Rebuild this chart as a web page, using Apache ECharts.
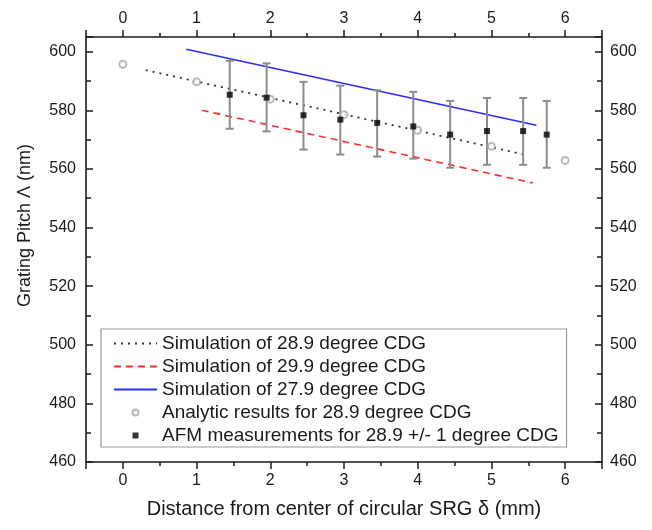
<!DOCTYPE html>
<html><head><meta charset="utf-8">
<script src="https://cdn.jsdelivr.net/npm/echarts@6/dist/echarts.min.js"></script>
<style>html,body{margin:0;padding:0;background:#fff}#c{width:652px;height:530px}</style>
</head><body><div id="c"></div>
<script>
// ---- data ----
const xTickLabels = [0, 1, 2, 3, 4, 5, 6];
const yTickLabels = [460, 480, 500, 520, 540, 560, 580, 600];
const sim289X = [0.31, 5.45];
const sim289Y = [593.7, 564.9];
const sim299X = [1.07, 5.56];
const sim299Y = [580.0, 555.2];
const sim279X = [0.86, 5.61];
const sim279Y = [600.8, 574.9];
const analyticX = [0, 1, 2, 3, 4, 5, 6];
const analyticY = [595.7, 589.7, 583.8, 578.5, 573.2, 567.7, 562.9];
const afmX = [1.45, 1.95, 2.45, 2.95, 3.45, 3.94, 4.44, 4.94, 5.43, 5.75];
const afmY = [585.3, 584.3, 578.3, 576.8, 575.7, 574.5, 571.7, 572.9, 572.9, 571.7];
const afmLow = [573.7, 572.8, 566.6, 564.9, 564.2, 563.5, 560.4, 561.4, 561.4, 560.4];
const afmHigh = [596.9, 596.0, 589.7, 588.4, 586.8, 586.3, 583.2, 584.2, 584.2, 583.2];
const seriesNames = [
  'Simulation of 28.9 degree CDG',
  'Simulation of 29.9 degree CDG',
  'Simulation of 27.9 degree CDG',
  'Analytic results for 28.9 degree CDG',
  'AFM measurements for 28.9 +/- 1 degree CDG'
];
const xTitle = 'Distance from center of circular SRG \u03b4 (mm)';
const yTitle = 'Grating Pitch \u039b (nm)';

// ---- helpers ----
const FONT = '"Liberation Sans", Arial, sans-serif';
const AX = '#1a1a1a';
const TXT = '#1a1a1a';
const zip = (a, b) => a.map((v, i) => [v, b[i]]);

function xAxisMajor(pos, withName) {
  return {
    type: 'value', position: pos, min: -0.5, max: 6.5, splitNumber: 7,
    axisLine: {show: true, onZero: false, lineStyle: {color: AX, width: 1.6}},
    axisTick: {show: true, inside: false, length: 7, lineStyle: {color: AX, width: 1.5}},
    axisLabel: {show: true, margin: pos === 'bottom' ? 11 : 10, fontSize: 16, color: TXT, fontFamily: FONT,
      formatter: v => xTickLabels.includes(v) ? String(v) : ''},
    splitLine: {show: false},
    name: withName ? xTitle : '', nameLocation: 'middle', nameGap: 37, nameMoveOverlap: false,
    nameTextStyle: {fontSize: 20, color: TXT, fontFamily: FONT}
  };
}
function xAxisMinor(pos) {
  return {
    type: 'value', position: pos, min: -0.5, max: 6.5, interval: 0.5,
    axisLine: {show: false, onZero: false},
    axisTick: {show: true, inside: false, length: 4, lineStyle: {color: AX, width: 1.5}},
    axisLabel: {show: false}, splitLine: {show: false}
  };
}
function yAxisMajor(pos, withName) {
  return {
    type: 'value', position: pos, min: 460, max: 605, interval: 20,
    axisLine: {show: true, onZero: false, lineStyle: {color: AX, width: 1.6}},
    axisTick: {show: true, inside: true, length: 7, lineStyle: {color: AX, width: 1.5}},
    axisLabel: {show: true, margin: pos === 'left' ? 10 : 8, fontSize: 16, color: TXT, fontFamily: FONT,
      formatter: v => yTickLabels.includes(v) ? String(v) : ''},
    splitLine: {show: false},
    name: withName ? yTitle : '', nameLocation: 'middle', nameGap: 52, nameMoveOverlap: false,
    nameTextStyle: {fontSize: 18, color: TXT, fontFamily: FONT, padding: [0, 0, 0, 48]}
  };
}
function yAxisMinor(pos) {
  return {
    type: 'value', position: pos, min: 460, max: 605, interval: 10,
    axisLine: {show: false, onZero: false},
    axisTick: {show: true, inside: true, length: 5, lineStyle: {color: AX, width: 1.5}},
    axisLabel: {show: false}, splitLine: {show: false}
  };
}

const chart = echarts.init(document.getElementById('c'), null, {renderer: 'canvas'});
chart.setOption({
  animation: false,
  backgroundColor: '#fff',
  textStyle: {fontFamily: FONT},
  grid: {left: 86, right: 50, top: 37, bottom: 68, containLabel: false, outerBoundsMode: 'none'},
  xAxis: [xAxisMajor('bottom', true), xAxisMinor('bottom'), xAxisMajor('top', false), xAxisMinor('top')],
  yAxis: [yAxisMajor('left', true), yAxisMinor('left'), yAxisMajor('right', false), yAxisMinor('right')],
  legend: {
    data: [
      {name: seriesNames[0], itemStyle: {opacity: 0}},
      {name: seriesNames[1], itemStyle: {opacity: 0}},
      {name: seriesNames[2], itemStyle: {opacity: 0}},
      {name: seriesNames[3]},
      {name: seriesNames[4], icon: 'path://M0,0H1V1H0Z'}
    ],
    orient: 'vertical', left: 101, top: 329,
    itemWidth: 43, itemHeight: 6, itemGap: 4, selectedMode: false,
    padding: [5, 8, 2, 12], borderColor: '#9a9a9a', borderWidth: 1.2,
    textStyle: {fontSize: 19, lineHeight: 19, color: TXT, fontFamily: FONT}
  },
  series: [
    {name: seriesNames[0], type: 'line', data: zip(sim289X, sim289Y), symbol: 'none', z: 3,
      lineStyle: {color: '#333', width: 1.8, type: [2, 5]}, itemStyle: {color: '#333'}},
    {name: seriesNames[1], type: 'line', data: zip(sim299X, sim299Y), symbol: 'none', z: 3,
      lineStyle: {color: '#ff2b2b', width: 1.6, type: [7, 5]}, itemStyle: {color: '#ff2b2b'}},
    {name: seriesNames[2], type: 'line', data: zip(sim279X, sim279Y), symbol: 'none', z: 3,
      lineStyle: {color: '#2b2bff', width: 1.6, type: 'solid'}, itemStyle: {color: '#2b2bff'}},
    {name: seriesNames[3], type: 'scatter', data: zip(analyticX, analyticY), symbol: 'emptyCircle', symbolSize: 7, z: 4,
      itemStyle: {color: '#a8a8a8', borderColor: '#a8a8a8', borderWidth: 1}},
    {name: 'errorbars', type: 'custom', z: 4,
      data: afmX.map((x, i) => [x, afmLow[i], afmHigh[i]]),
      encode: {x: 0, y: [1, 2]},
      renderItem: (params, api) => {
        const x = api.value(0);
        const pLo = api.coord([x, api.value(1)]);
        const pHi = api.coord([x, api.value(2)]);
        const cap = 4;
        const st = {stroke: '#8c8c8c', lineWidth: 2};
        return {type: 'group', children: [
          {type: 'line', shape: {x1: pLo[0], y1: pLo[1], x2: pHi[0], y2: pHi[1]}, style: st},
          {type: 'line', shape: {x1: pLo[0] - cap, y1: pLo[1], x2: pLo[0] + cap, y2: pLo[1]}, style: st},
          {type: 'line', shape: {x1: pHi[0] - cap, y1: pHi[1], x2: pHi[0] + cap, y2: pHi[1]}, style: st}
        ]};
      }},
    {name: seriesNames[4], type: 'scatter', data: zip(afmX, afmY), symbol: 'rect', symbolSize: 6, z: 5,
      itemStyle: {color: '#000'}}
  ]
});
</script></body></html>
